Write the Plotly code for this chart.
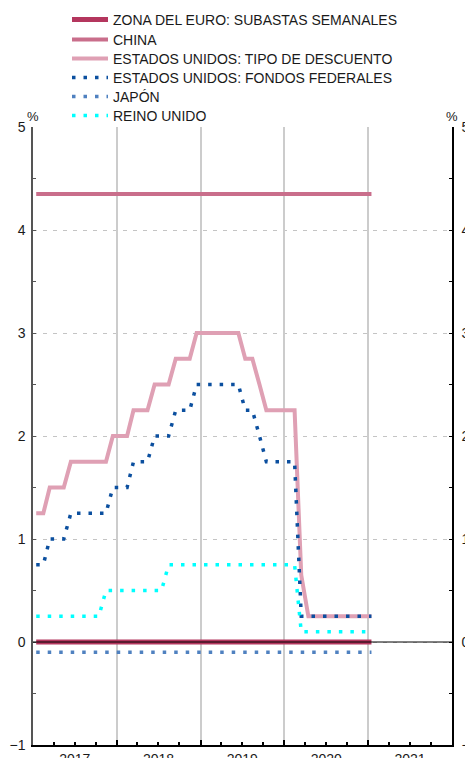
import pandas as pd
import plotly.graph_objects as go

# Monthly observations, January 2017 - January 2021
months = pd.date_range("2017-01-01", periods=49, freq="MS") + pd.Timedelta(days=14)

euro = [0.0] * 49
china = [4.35] * 49
us_discount = (
    [1.25, 1.25, 1.5, 1.5, 1.5, 1.75, 1.75, 1.75, 1.75, 1.75, 1.75, 2.0]
    + [2.0, 2.0, 2.25, 2.25, 2.25, 2.5, 2.5, 2.5, 2.75, 2.75, 2.75, 3.0]
    + [3.0, 3.0, 3.0, 3.0, 3.0, 3.0, 2.75, 2.75, 2.5, 2.25, 2.25, 2.25]
    + [2.25, 2.25, 0.65, 0.25, 0.25, 0.25, 0.25, 0.25, 0.25, 0.25, 0.25, 0.25]
    + [0.25]
)
us_fed_funds = (
    [0.75, 0.75, 1.0, 1.0, 1.0, 1.25, 1.25, 1.25, 1.25, 1.25, 1.25, 1.5]
    + [1.5, 1.5, 1.75, 1.75, 1.75, 2.0, 2.0, 2.0, 2.25, 2.25, 2.25, 2.5]
    + [2.5, 2.5, 2.5, 2.5, 2.5, 2.5, 2.25, 2.25, 2.0, 1.75, 1.75, 1.75]
    + [1.75, 1.75, 0.25, 0.25, 0.25, 0.25, 0.25, 0.25, 0.25, 0.25, 0.25, 0.25]
    + [0.25]
)
japan = [-0.1] * 49
uk = (
    [0.25] * 10 + [0.5, 0.5]
    + [0.5] * 7 + [0.75] * 5
    + [0.75] * 12
    + [0.75, 0.75] + [0.1] * 10
    + [0.1]
)

year_labels = ["2017", "2018", "2019", "2020", "2021"]
year_mid = ["2017-07-02", "2018-07-02", "2019-07-02", "2020-07-02", "2021-07-02"]

series = [
    ("ZONA DEL EURO: SUBASTAS SEMANALES", euro, "#b4365e", 5, "solid"),
    ("CHINA", china, "#c96e8b", 4, "solid"),
    ("ESTADOS UNIDOS: TIPO DE DESCUENTO", us_discount, "#dfa0b4", 4, "solid"),
    ("ESTADOS UNIDOS: FONDOS FEDERALES", us_fed_funds, "#0b4f9f", 3.5, "3.5px,8px"),
    ("JAPÓN", japan, "#4f81c0", 3.5, "3.5px,8px"),
    ("REINO UNIDO", uk, "#00ffff", 3.5, "3.5px,8px"),
]

FONT = "Liberation Sans, Arial, Helvetica, sans-serif"

# figure geometry (the page adds an 8px body margin)
FIG_W, FIG_H = 465, 750
PLOT_L, PLOT_T, PLOT_R, PLOT_B = 25, 119, 21, 13
PLOT_W = FIG_W - PLOT_L - PLOT_R
PLOT_H = FIG_H - PLOT_T - PLOT_B
legend_rows_px = [12, 32, 51, 70, 89, 108]   # row centres, figure pixels
legend_left_px = 59

fig = go.Figure()
for i, (name, vals, color, width, dash) in enumerate(series):
    fig.add_trace(go.Scatter(
        x=months, y=vals, name=name, mode="lines",
        line=dict(color=color, width=width, dash=dash),
        hoverinfo="skip", legend="legend" if i == 0 else f"legend{i + 1}",
    ))

# invisible trace to activate the secondary (right / year-grid) axes
fig.add_trace(go.Scatter(
    x=months, y=japan, xaxis="x2", yaxis="y2", mode="lines",
    line=dict(width=0), opacity=0, showlegend=False, hoverinfo="skip",
))

xrange_ = ["2017-01-01", "2022-01-01"]

legends = {}
for i, ypx in enumerate(legend_rows_px):
    key = "legend" if i == 0 else f"legend{i + 1}"
    legends[key] = dict(
        xref="paper", yref="paper",
        x=(legend_left_px - PLOT_L) / PLOT_W, y=1 + (PLOT_T - ypx) / PLOT_H,
        xanchor="left", yanchor="middle",
        font=dict(family=FONT, size=14, color="#1a1a1a"),
        bgcolor="rgba(0,0,0,0)", itemwidth=36,
    )

fig.update_layout(
    width=FIG_W, height=FIG_H,
    margin=dict(l=PLOT_L, r=PLOT_R, t=PLOT_T, b=PLOT_B, autoexpand=False),
    paper_bgcolor="white", plot_bgcolor="white",
    font=dict(family=FONT, size=14, color="#1a1a1a"),
    showlegend=True,
    xaxis=dict(
        range=xrange_, type="date",
        tickmode="array", tickvals=year_mid, ticktext=year_labels, tickangle=0,
        ticks="", showgrid=False, zeroline=False,
        showline=True, linecolor="black", linewidth=1.5,
        tickfont=dict(size=14),
    ),
    xaxis2=dict(
        range=xrange_, type="date", overlaying="x", anchor="y", side="bottom",
        tickmode="linear", tick0="2017-01-01", dtick="M12",
        ticks="inside", ticklen=5, tickcolor="black", tickwidth=1.5,
        showticklabels=False, showgrid=True, gridcolor="#cccccc", gridwidth=1.5,
        zeroline=False, showline=False,
        minor=dict(dtick="M3", tick0="2017-01-01", ticks="inside", ticklen=3,
                   tickcolor="black", showgrid=False),
    ),
    yaxis=dict(
        range=[-1, 5], tickmode="linear", tick0=0, dtick=1,
        ticks="inside", ticklen=3, tickcolor="#555555",
        showgrid=True, gridcolor="#c4c4c4", gridwidth=1, griddash="4px,6px",
        zeroline=False, showline=True, linecolor="#555555", linewidth=1.5,
        minor=dict(dtick=0.5, ticks="inside", ticklen=3, tickcolor="#555555", showgrid=False),
        tickfont=dict(size=14), ticklabelstandoff=3,
    ),
    yaxis2=dict(
        range=[-1, 5], overlaying="y", side="right", anchor="x",
        tickmode="linear", tick0=0, dtick=1,
        ticks="inside", ticklen=3, tickcolor="black",
        showgrid=False, zeroline=False, showline=True, linecolor="black", linewidth=1.5,
        minor=dict(dtick=0.5, ticks="inside", ticklen=3, tickcolor="black", showgrid=False),
        tickfont=dict(size=14), ticklabelstandoff=5,
    ),
    shapes=[dict(type="line", xref="paper", x0=0, x1=1, yref="y", y0=0, y1=0,
                 line=dict(color="black", width=1), layer="above")],
    annotations=[
        dict(text="%", xref="paper", yref="paper", x=0, y=1, xanchor="center",
             yanchor="bottom", showarrow=False, font=dict(size=13), yshift=1),
        dict(text="%", xref="paper", yref="paper", x=1, y=1, xanchor="center",
             yanchor="bottom", showarrow=False, font=dict(size=13), yshift=1),
    ],
    **legends,
)

fig.write_html("out.html")
